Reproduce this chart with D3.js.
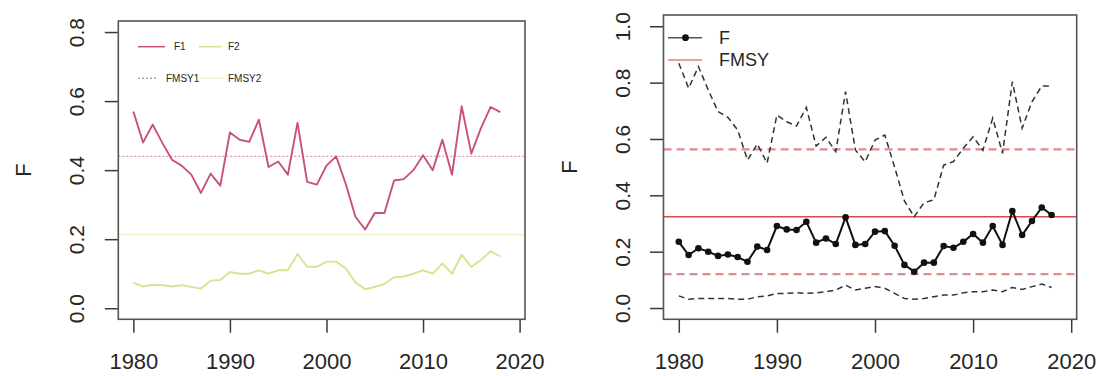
<!DOCTYPE html>
<html>
<head>
<meta charset="utf-8">
<script src="https://cdn.jsdelivr.net/npm/d3@7"></script>
<style>
  body { margin: 0; background: #fff; }
  svg { display: block; }
  text { font-family: "Liberation Sans", Arial, sans-serif; fill: #262626; }
</style>
</head>
<body>
<svg id="chart" width="1101" height="376"></svg>
<script>
/* Data */

const years = [1980, 1981, 1982, 1983, 1984, 1985, 1986, 1987, 1988, 1989,
               1990, 1991, 1992, 1993, 1994, 1995, 1996, 1997, 1998, 1999,
               2000, 2001, 2002, 2003, 2004, 2005, 2006, 2007, 2008, 2009,
               2010, 2011, 2012, 2013, 2014, 2015, 2016, 2017, 2018];

// left panel: two fleets
const f1 = [0.570, 0.480, 0.532, 0.479, 0.430, 0.413, 0.387, 0.334, 0.390, 0.355,
            0.509, 0.488, 0.482, 0.546, 0.409, 0.425, 0.387, 0.537, 0.366, 0.358,
            0.413, 0.440, 0.360, 0.265, 0.228, 0.276, 0.276, 0.370, 0.374, 0.400,
            0.443, 0.400, 0.488, 0.387, 0.585, 0.448, 0.522, 0.583, 0.568];
const f2 = [0.074, 0.063, 0.068, 0.067, 0.063, 0.067, 0.062, 0.057, 0.080, 0.082,
            0.105, 0.100, 0.100, 0.110, 0.100, 0.110, 0.110, 0.157, 0.120, 0.120,
            0.135, 0.135, 0.115, 0.075, 0.055, 0.062, 0.070, 0.090, 0.092, 0.100,
            0.110, 0.100, 0.130, 0.100, 0.155, 0.120, 0.140, 0.165, 0.150];
const fmsy1 = 0.44;
const fmsy2 = 0.213;

// right panel: total F with interval
const fTotal = [0.235, 0.188, 0.212, 0.200, 0.185, 0.190, 0.181, 0.164, 0.218, 0.206,
                0.291, 0.279, 0.277, 0.306, 0.232, 0.247, 0.227, 0.322, 0.224, 0.227,
                0.271, 0.273, 0.221, 0.153, 0.129, 0.161, 0.161, 0.220, 0.214, 0.235,
                0.263, 0.232, 0.291, 0.224, 0.344, 0.259, 0.309, 0.357, 0.330];
const fUpper = [0.869, 0.780, 0.857, 0.774, 0.697, 0.677, 0.632, 0.525, 0.582, 0.514,
                0.685, 0.661, 0.646, 0.712, 0.575, 0.606, 0.555, 0.768, 0.561, 0.519,
                0.596, 0.614, 0.500, 0.380, 0.324, 0.374, 0.384, 0.507, 0.520, 0.567,
                0.608, 0.560, 0.674, 0.549, 0.803, 0.638, 0.732, 0.788, 0.788];
const fLower = [0.043, 0.031, 0.034, 0.034, 0.034, 0.034, 0.031, 0.031, 0.040, 0.043,
                0.052, 0.052, 0.054, 0.052, 0.054, 0.058, 0.064, 0.081, 0.064, 0.070,
                0.076, 0.070, 0.052, 0.034, 0.031, 0.034, 0.040, 0.046, 0.046, 0.054,
                0.058, 0.058, 0.064, 0.058, 0.073, 0.066, 0.076, 0.085, 0.073];
const fmsy = 0.324;
const fmsyUpper = 0.563;
const fmsyLower = 0.12;

const xTicks = [1980, 1990, 2000, 2010, 2020];
const leftYTicks = [0, 0.2, 0.4, 0.6, 0.8];
const rightYTicks = [0, 0.2, 0.4, 0.6, 0.8, 1.0];

/* Setup */

const svg = d3.select('#chart');
const xDomain = [1978.44, 2020.56];

const makePanel = (box, yDomain, yTicks) => {
    const x = d3.scaleLinear().domain(xDomain).range([box.x0, box.x1]);
    const y = d3.scaleLinear().domain(yDomain).range([box.y1, box.y0]);
    const g = svg.append('g');

    const xAxis = g.append('g')
        .attr('transform', `translate(0,${box.y1})`)
        .call(d3.axisBottom(x).tickValues(xTicks).tickFormat(d3.format('d'))
            .tickSize(13.5).tickPadding(21));
    xAxis.select('.domain').remove();
    xAxis.selectAll('line').attr('stroke', '#3a3a3a').attr('stroke-width', 1.5);
    xAxis.selectAll('text').attr('font-size', 22).attr('fill', '#262626')
        .attr('font-family', '"Liberation Sans", Arial, sans-serif');

    const yAxis = g.append('g')
        .attr('transform', `translate(${box.x0},0)`)
        .call(d3.axisLeft(y).tickValues(yTicks).tickFormat(d3.format('.1f'))
            .tickSize(13.5));
    yAxis.select('.domain').remove();
    yAxis.selectAll('line').attr('stroke', '#3a3a3a').attr('stroke-width', 1.5);
    yAxis.selectAll('text')
        .attr('x', null).attr('dy', null)
        .attr('transform', 'translate(-34,0) rotate(-90)')
        .attr('text-anchor', 'middle')
        .attr('font-size', 21).attr('fill', '#262626')
        .attr('font-family', '"Liberation Sans", Arial, sans-serif');

    g.append('text')
        .attr('transform', `translate(${box.labelX},${(box.y0 + box.y1) / 2}) rotate(-90)`)
        .attr('text-anchor', 'middle')
        .attr('font-size', 22)
        .text('F');

    return { x, y, g };
};

const line = (x, y) => d3.line().x((d, i) => x(years[i])).y(d => y(d));

const hline = (p, value, color, width, dash) => {
    p.g.append('line')
        .attr('x1', p.x.range()[0]).attr('x2', p.x.range()[1])
        .attr('y1', p.y(value)).attr('y2', p.y(value))
        .attr('stroke', color).attr('stroke-width', width)
        .attr('stroke-dasharray', dash || null);
};

const box = (b) => {
    svg.append('rect')
        .attr('x', b.x0).attr('y', b.y0)
        .attr('width', b.x1 - b.x0).attr('height', b.y1 - b.y0)
        .attr('fill', 'none').attr('stroke', '#555').attr('stroke-width', 1.6);
};

/* Left panel */

const leftBox = { x0: 118.3, x1: 525, y0: 21, y1: 319.3, labelX: 31 };
const left = makePanel(leftBox, [-0.032, 0.832], leftYTicks);

hline(left, fmsy1, '#d79aad', 1.3, '2,2');
hline(left, fmsy2, '#eef0c8', 1.3);

left.g.append('path').datum(f1)
    .attr('d', line(left.x, left.y))
    .attr('fill', 'none').attr('stroke', '#c94f7c').attr('stroke-width', 1.9)
    .attr('stroke-linejoin', 'round');
left.g.append('path').datum(f2)
    .attr('d', line(left.x, left.y))
    .attr('fill', 'none').attr('stroke', '#d8e291').attr('stroke-width', 1.9)
    .attr('stroke-linejoin', 'round');

// legend
const leftLegend = [
    { label: 'F1', color: '#c94f7c', dash: null, lx: 138, len: 27, tx: 174, y: 46.7 },
    { label: 'F2', color: '#d8e291', dash: null, lx: 199, len: 22, tx: 228, y: 46.7 },
    { label: 'FMSY1', color: '#b9a0aa', dash: '2,2', lx: 138, len: 20, tx: 166, y: 78.3 },
    { label: 'FMSY2', color: '#eef0c8', dash: null, lx: 199, len: 24, tx: 228, y: 78.3 }
];
leftLegend.forEach(d => {
    left.g.append('line')
        .attr('x1', d.lx).attr('x2', d.lx + d.len)
        .attr('y1', d.y).attr('y2', d.y)
        .attr('stroke', d.color).attr('stroke-width', 1.5)
        .attr('stroke-dasharray', d.dash);
    left.g.append('text')
        .attr('x', d.tx).attr('y', d.y).attr('dy', '0.35em')
        .attr('font-size', 10).attr('fill', '#777')
        .text(d.label);
});

box(leftBox);

/* Right panel */

const rightBox = { x0: 663.5, x1: 1076.7, y0: 15, y1: 319.3, labelX: 577 };
const right = makePanel(rightBox, [-0.04, 1.04], rightYTicks);

hline(right, fmsyUpper, '#e08a8a', 2.3, '8,5');
hline(right, fmsyLower, '#e08a8a', 2.3, '8,5');
hline(right, fmsy, '#d64a4a', 1.6);

[fUpper, fLower].forEach(s => {
    right.g.append('path').datum(s)
        .attr('d', line(right.x, right.y))
        .attr('fill', 'none').attr('stroke', '#333').attr('stroke-width', 1.5)
        .attr('stroke-dasharray', '6,4');
});

right.g.append('path').datum(fTotal)
    .attr('d', line(right.x, right.y))
    .attr('fill', 'none').attr('stroke', '#111').attr('stroke-width', 2);
right.g.selectAll('circle.pt').data(fTotal).join('circle')
    .attr('class', 'pt')
    .attr('cx', (d, i) => right.x(years[i]))
    .attr('cy', d => right.y(d))
    .attr('r', 3.3)
    .attr('fill', '#111');

// legend
right.g.append('line')
    .attr('x1', 668).attr('x2', 702).attr('y1', 37.7).attr('y2', 37.7)
    .attr('stroke', '#555').attr('stroke-width', 1.6);
right.g.append('circle').attr('cx', 685.5).attr('cy', 37.7).attr('r', 3.4).attr('fill', '#111');
right.g.append('text').attr('x', 719).attr('y', 37.7).attr('dy', '0.35em')
    .attr('font-size', 18).text('F');

right.g.append('line')
    .attr('x1', 668).attr('x2', 702).attr('y1', 60).attr('y2', 60)
    .attr('stroke', '#e07f7f').attr('stroke-width', 1.6);
right.g.append('text').attr('x', 719).attr('y', 60).attr('dy', '0.35em')
    .attr('font-size', 18).text('FMSY');

box(rightBox);
</script>
</body>
</html>
